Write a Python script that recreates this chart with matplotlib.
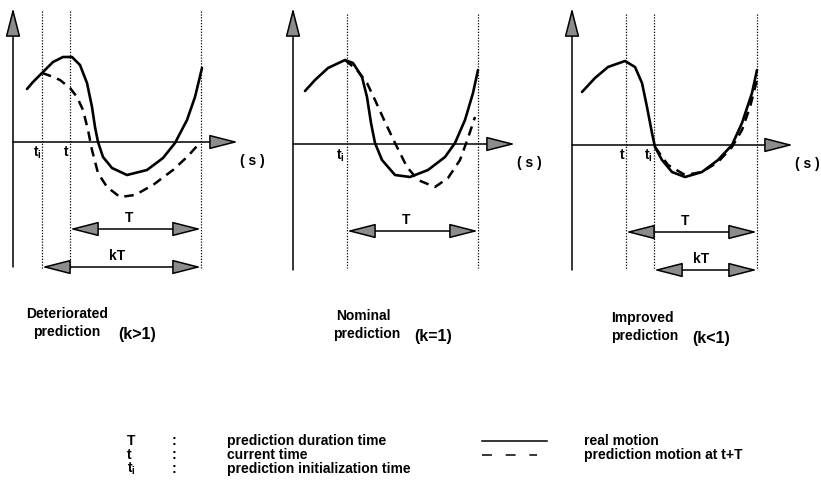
import matplotlib.pyplot as plt
from matplotlib.patches import FancyArrowPatch

plt.rcParams['font.family'] = ['Liberation Sans Narrow', 'Liberation Sans', 'DejaVu Sans']

# curves per panel, in local units: s to the right of the ordinate,
# v above the time axis

# deteriorated prediction (k>1)
det_real_s = [14, 20, 29, 40, 50, 59, 67, 74, 79, 82, 85, 90, 99, 114, 134, 150, 162, 174, 182, 189]
det_real_v = [53, 60, 69, 80, 85, 85, 77, 59, 35, 15, 0, -15, -26, -33, -28, -16, -1, 22, 45, 74]
det_pred_s = [29, 35, 47, 57, 64, 70, 75, 79, 85, 94, 107, 122, 140, 160, 174, 185]
det_pred_v = [69, 67, 62, 54, 45, 32, 12, -8, -31, -45, -55, -53, -43, -28, -15, -3]

# nominal prediction (k=1)
nom_real_s = [12, 22, 35, 52, 60, 69, 74, 78, 82, 89, 102, 117, 135, 152, 162, 172, 180, 185]
nom_real_v = [53, 64, 76, 84, 81, 67, 47, 21, 1, -16, -31, -33, -26, -13, 1, 24, 51, 74]
nom_pred_s = [52, 64, 74, 82, 92, 102, 114, 125, 142, 155, 167, 175, 182]
nom_pred_v = [84, 74, 61, 44, 22, 1, -23, -36, -43, -34, -16, 6, 27]

# improved prediction (k<1)
imp_real_s = [10, 23, 36, 53, 63, 70, 75, 80, 83, 90, 100, 113, 130, 146, 160, 170, 180, 185]
imp_real_v = [53, 67, 78, 84, 78, 62, 38, 12, -2, -15, -27, -32, -27, -15, 0, 22, 52, 75]
imp_pred_s = [83, 96, 113, 130, 146, 160, 170, 178, 185]
imp_pred_v = [-2, -20, -30, -27, -17, -2, 15, 38, 65]

# time marks (t, ti) and horizon end on the s scale
det_t, det_ti, det_end = 57, 29, 188
nom_t, nom_ti, nom_end = 54, 54, 185
imp_t, imp_ti, imp_end = 54, 82, 185

captions = [("Deteriorated", "prediction", "(k>1)"),
            ("Nominal", "prediction", "(k=1)"),
            ("Improved", "prediction", "(k<1)")]

legend_syms = ["T", "t", r"t$_\mathregular{i}$"]
legend_desc = ["prediction duration time", "current time", "prediction initialization time"]
legend_lines = ["real motion", "prediction motion at t+T"]

GREY = "#8c8c8c"
BOLD = dict(fontweight="bold", color="black")

fig = plt.figure(figsize=(8.21, 4.86), dpi=100)
ax = fig.add_axes([0, 0, 1, 1])
ax.set_xlim(0, 821)
ax.set_ylim(486, 0)
ax.axis("off")


def arrow(x0, y0, x1, y1, style, hl, hw, lw=1.1):
    a = FancyArrowPatch((x0, y0), (x1, y1),
                        arrowstyle=f"{style},head_length={hl},head_width={hw}",
                        mutation_scale=1, shrinkA=0, shrinkB=0,
                        facecolor=GREY, edgecolor="black", lw=lw, zorder=4)
    ax.add_patch(a)


def panel(ox, oy, s_tip, y_bot, rs, rv, ps, pv, t, ti, end, k_arrow, vtop, vbot):
    X = lambda s: ox + s
    Y = lambda v: oy - v
    # axes
    arrow(ox, y_bot, ox, 8, "-|>", 18, 4.6)
    arrow(ox, oy, X(s_tip), oy, "-|>", 18, 4.6)
    # dotted time marks
    for s in sorted({t, ti, end}):
        ax.plot([X(s), X(s)], [vtop, vbot], color="black", lw=0.9,
                ls=(0, (1, 1.3)), zorder=2)
    # real motion and predicted motion
    ax.plot([X(s) for s in rs], [Y(v) for v in rv], color="black", lw=1.9,
            solid_capstyle="round", zorder=3)
    ax.plot([X(s) for s in ps], [Y(v) for v in pv], color="black", lw=1.8,
            ls=(0, (3.8, 2.6)), zorder=3)
    # prediction horizon arrows
    arrow(X(t), oy + 87, X(end), oy + 87, "<|-|>", 18, 4.6)
    ax.text((X(t) + X(end)) / 2 - 6, oy + 83, "T", ha="center", va="bottom",
            fontsize=10, **BOLD)
    if k_arrow:
        arrow(X(ti), oy + 125, X(end), oy + 125, "<|-|>", 18, 4.6)
        ax.text((X(ti) + X(end)) / 2 - 4, oy + 121, "kT", ha="center",
                va="bottom", fontsize=10, **BOLD)
    ax.text(X(s_tip) + 2, oy + 19, "( s )", ha="left", va="center",
            fontsize=10, **BOLD)


panel(13, 142, 225, 267, det_real_s, det_real_v, det_pred_s, det_pred_v,
      det_t, det_ti, det_end, True, 11, 268)
panel(293, 144, 222, 270, nom_real_s, nom_real_v, nom_pred_s, nom_pred_v,
      nom_t, nom_ti, nom_end, False, 14, 268)
panel(572, 145, 221, 270, imp_real_s, imp_real_v, imp_pred_s, imp_pred_v,
      imp_t, imp_ti, imp_end, True, 14, 270)

# time labels under the axis
tick_kw = dict(ha="center", va="top", fontsize=10, **BOLD)
ax.text(13 + det_ti - 5, 145, r"t$_\mathregular{i}$", **tick_kw)
ax.text(13 + det_t - 4, 145, "t", **tick_kw)
ax.text(293 + nom_ti - 7, 148, r"t$_\mathregular{i}$", **tick_kw)
ax.text(572 + imp_t - 4, 148, "t", **tick_kw)
ax.text(572 + imp_ti - 6, 148, r"t$_\mathregular{i}$", **tick_kw)

# panel captions
cap_pos = [(26, 33, 118, 314), (336, 333, 414, 316), (611, 611, 692, 318)]
for (l1, l2, l3), (x1, x2, x3, y) in zip(captions, cap_pos):
    ax.text(x1, y, l1, ha="left", va="center", fontsize=10, **BOLD)
    ax.text(x2, y + 18, l2, ha="left", va="center", fontsize=10, **BOLD)
    ax.text(x3, y + 20, l3, ha="left", va="center", fontsize=11.5, **BOLD)

# key
for i, (sym, desc) in enumerate(zip(legend_syms, legend_desc)):
    y = 441 + 14 * i
    ax.text(127, y, sym, ha="left", va="center", fontsize=10, **BOLD)
    ax.text(172, y, ":", ha="left", va="center", fontsize=10, **BOLD)
    ax.text(227, y, desc, ha="left", va="center", fontsize=10, **BOLD)

ax.plot([482, 547], [441, 441], color="black", lw=1.1)
ax.plot([482, 537], [455, 455], color="black", lw=1.1, ls=(0, (6.5, 9)))
for i, lab in enumerate(legend_lines):
    ax.text(584, 441 + 14 * i, lab, ha="left", va="center", fontsize=10, **BOLD)

fig.savefig("out.png", dpi=100)
